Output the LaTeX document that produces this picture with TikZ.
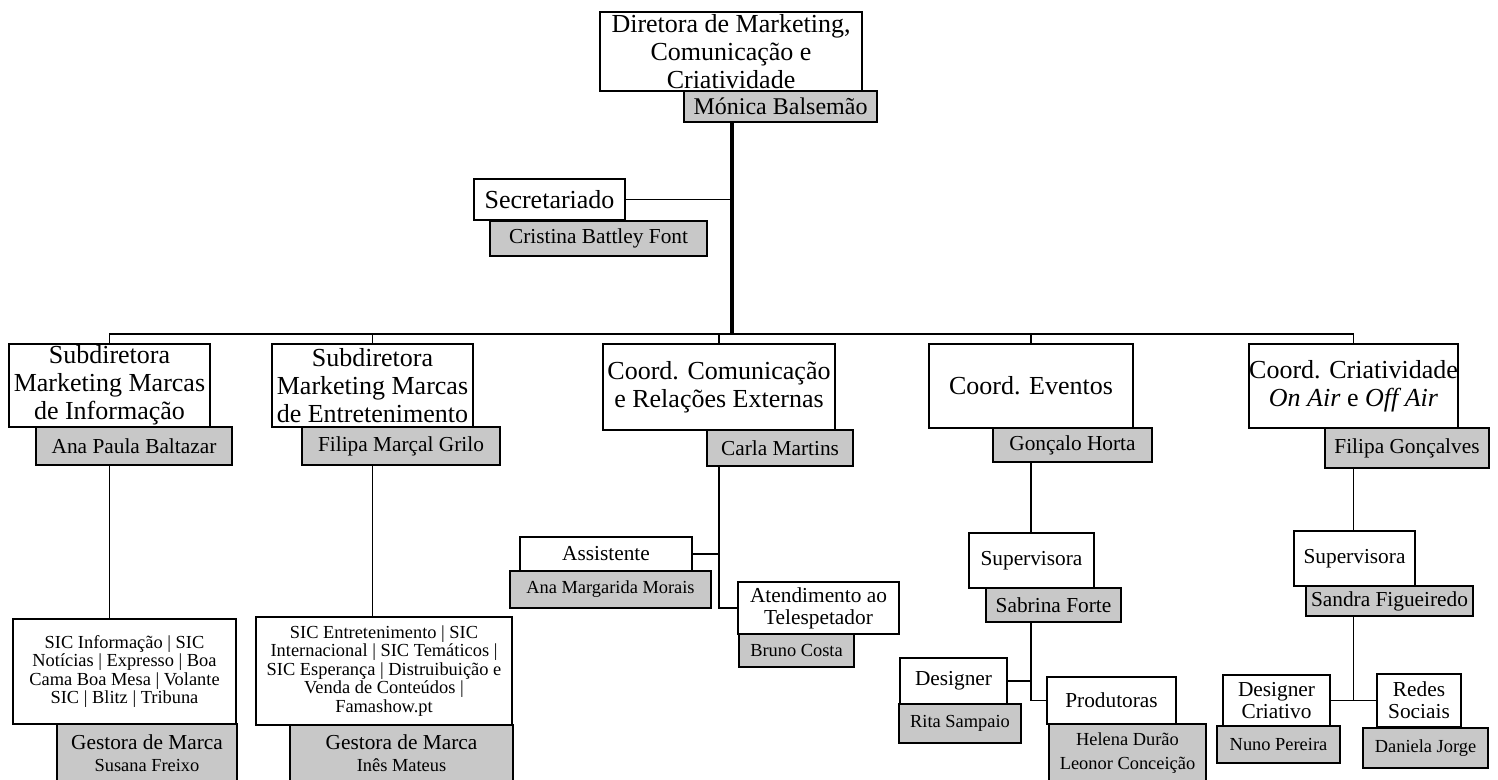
\documentclass[tikz,border=0pt]{standalone}
\usepackage{fontspec}
\setmainfont{Liberation Serif}
\usepackage{tikz}

\definecolor{namegray}{RGB}{200,200,200}
\newcommand{\fbig}{\fontsize{19.5}{21}\selectfont}
\newcommand{\fmon}{\fontsize{18}{20}\selectfont}
\newcommand{\fmid}{\fontsize{16}{16.5}\selectfont}
\newcommand{\fsmall}{\fontsize{13.8}{13.9}\selectfont}

\tikzset{
    wh/.style 2 args={minimum width=#1*0.75pt, minimum height=#2*0.75pt},
    role/.style={draw, line width=1.2pt, fill=white, inner sep=0pt, align=center, font=\fbig},
    roleS/.style={role, font=\fmid},
    roleXS/.style={role, font=\fsmall},
    person/.style={draw, line width=2pt, fill=namegray, inner sep=0pt, align=center, font=\fmid},
    personS/.style={person, font=\fsmall},
    wire/.style={line width=1.4pt},
    trunk/.style={line width=3.4pt},
}

\begin{document}
\begin{tikzpicture}[x=0.75pt, y=-0.75pt]
        \useasboundingbox (0,0) rectangle (1498,780);
        \clip (0,0) rectangle (1498,780);

        % Top.
        \node[role, wh={262}{79}] (dir) at (731,51.5) {Diretora de Marketing,\\Comunicação e\\Criatividade};
        \node[person, wh={193}{31}, font=\fmon] (monica) at (780.5,106.5) {Mónica Balsemão};
        \coordinate (bus) at (732,334);
        \node[role, wh={151}{41}] (secr) at (549.5,199.5) {Secretariado};
        \node[person, wh={217}{35}] (cristina) at (598.5,238.5) {Cristina Battley Font};

        % Heads.
        \node[role, wh={201}{83}] (subInf) at (109.5,385.5) {Subdiretora\\Marketing Marcas\\de Informação};
        \node[person, wh={196}{38}] (anaPaula) at (134,446) {Ana Paula Baltazar};
        \node[role, wh={201}{83}] (subEnt) at (372.5,385.5) {Subdiretora\\Marketing Marcas\\de Entretenimento};
        \node[person, wh={198}{38}] (filipaMG) at (401,446) {Filipa Marçal Grilo};
        \node[role, wh={232}{86}] (coordCom) at (719,387) {Coord. Comunicação\\e Relações Externas};
        \node[person, wh={146}{36}] (carla) at (780,448) {Carla Martins};
        \node[role, wh={204}{84}] (coordEv) at (1031,386) {Coord. Eventos};
        \node[person, wh={159}{34}] (goncalo) at (1072.5,445) {Gonçalo Horta};
        \node[role, wh={209}{84}] (coordCri) at (1353.5,386) {Coord. Criatividade\\\textit{On Air} e \textit{Off Air}};
        \node[person, wh={164}{40}] (filipaG) at (1407,448) {Filipa Gonçalves};

        % Marcas.
        \node[roleXS, wh={223}{105}] (marcasInf) at (124.5,671.5) {SIC Informação | SIC\\Notícias | Expresso | Boa\\Cama Boa Mesa | Volante\\SIC | Blitz | Tribuna};
        \node[person, wh={180}{58}] (gestoraInf) at (147,753) {Gestora de Marca\\{\fsmall Susana Freixo}};
        \node[roleXS, wh={256}{108}] (marcasEnt) at (384,671) {SIC Entretenimento | SIC\\Internacional | SIC Temáticos |\\SIC Esperança | Distruibuição e\\Venda de Conteúdos |\\Famashow.pt};
        \node[person, wh={223}{57}] (gestoraEnt) at (401.5,753.5) {Gestora de Marca\\{\fsmall Inês Mateus}};

        % Comunicacao.
        \node[roleS, wh={172}{34}] (assist) at (606,554) {Assistente};
        \node[personS, wh={201}{37}] (anaMarg) at (610.5,589.5) {Ana Margarida Morais};
        \node[roleS, wh={161}{52}] (atend) at (818.5,608) {Atendimento ao\\Telespetador};
        \node[personS, wh={115}{33}] (bruno) at (796.5,650.5) {Bruno Costa};

        % Eventos.
        \node[roleS, wh={125}{55}] (supEv) at (1031.5,560.5) {Supervisora};
        \node[person, wh={135}{34}] (sabrina) at (1053.5,605) {Sabrina Forte};
        \node[roleS, wh={107}{46}] (designer) at (953.5,681) {Designer};
        \node[personS, wh={122}{39}] (rita) at (960,723.5) {Rita Sampaio};
        \node[roleS, wh={129}{47}] (produtoras) at (1111.5,700.5) {Produtoras};
        \node[personS, wh={157}{58}] (helena) at (1127.5,753) {Helena Durão\\[4pt]Leonor Conceição};

        % Criatividade.
        \node[roleS, wh={121}{55}] (supCri) at (1354.5,558.5) {Supervisora};
        \node[person, wh={167}{30}] (sandra) at (1389.5,601) {Sandra Figueiredo};
        \node[roleS, wh={107}{51}] (designerCri) at (1276.5,700.5) {Designer\\Criativo};
        \node[personS, wh={123}{37}] (nuno) at (1278.5,744.5) {Nuno Pereira};
        \node[roleS, wh={84}{53}] (redes) at (1419,700.5) {Redes\\Sociais};
        \node[personS, wh={125}{40}] (daniela) at (1425.5,748) {Daniela Jorge};

        % Lines.
        \draw[trunk] (monica.south -| bus) -- (bus);
        \draw[wire] (secr.east) -- (secr.east -| bus);
        \draw[wire] (subInf.north) -- (subInf.north |- bus) -- (coordCri.north |- bus) -- (coordCri.north);
        \foreach \h in {subEnt,coordCom,coordEv}
            \draw[wire] (\h.north) -- (\h.north |- bus);
        \draw[wire] (anaPaula.south -| subInf) -- (marcasInf.north -| subInf);
        \draw[wire] (filipaMG.south -| subEnt) -- (marcasEnt.north -| subEnt);
        \draw[wire] (carla.south -| coordCom) |- (atend.west);
        \draw[wire] (assist.east) -- (assist.east -| coordCom);
        \draw[wire] (goncalo.south -| coordEv) -- (supEv.north -| coordEv);
        \draw[wire] (sabrina.south -| coordEv) |- (produtoras.west);
        \draw[wire] (designer.east) -- (designer.east -| coordEv);
        \draw[wire] (filipaG.south -| coordCri) -- (supCri.north -| coordCri);
        \draw[wire] (sandra.south -| coordCri) -- (designerCri.east -| coordCri);
        \draw[wire] (designerCri.east) -- (redes.west);
\end{tikzpicture}
\end{document}
